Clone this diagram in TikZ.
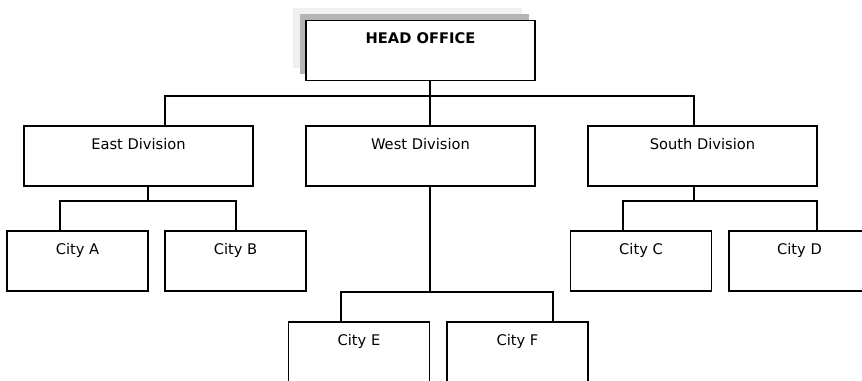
\documentclass[tikz,border=0pt]{standalone}
\usepackage{fontspec}
\setmainfont{DejaVu Sans}
\definecolor{shadelight}{RGB}{240,240,240}
\definecolor{shadedark}{RGB}{180,180,180}
\tikzset{
	unitbox/.style={draw, fill=white, line width=1pt, inner sep=0pt, minimum width=#1,
		text height=17.25pt, text depth=27.75pt, font=\fontsize{11}{13}\selectfont},
	divbox/.style={unitbox=171.75pt},
	citybox/.style={unitbox=105.75pt},
	link/.style={line width=1pt}
}
\begin{document}
\begin{tikzpicture}[x=0.75pt, y=-0.75pt, line join=miter]
			\useasboundingbox (0,0) rectangle (862,380);
			\clip (0,0) rectangle (862,380);
			% shadow behind head office
			\fill[shadelight] (293,8) rectangle (522,68);
			\fill[shadedark] (300,14) rectangle (529,74);
			\node[divbox] (head) at (420.5,50.5) {\textbf{HEAD OFFICE}};
			% divisions
			\node[divbox] (eastdiv) at (138.5,156) {East Division};
			\node[divbox] (westdiv) at (420.5,156) {West Division};
			\node[divbox] (southdiv) at (702.5,156) {South Division};
			% cities
			\node[citybox] (cityA) at (77.5,261) {City A};
			\node[citybox] (cityB) at (235.5,261) {City B};
			\node[citybox] (cityC) at (641,261) {City C};
			\node[citybox] (cityD) at (799.5,261) {City D};
			\node[citybox] (cityE) at (359,352) {City E};
			\node[citybox] (cityF) at (517.5,352) {City F};
			% head office to divisions
			\coordinate (busE) at (165,96);
			\coordinate (busW) at (430,96);
			\coordinate (busS) at (694,96);
			\draw[link] (head.south -| busW) -- (busW);
			\draw[link] (busE |- eastdiv.north) -- (busE) -- (busS) -- (busS |- southdiv.north);
			\draw[link] (busW) -- (busW |- westdiv.north);
			% east division
			\coordinate (eastHub) at (148,201);
			\coordinate (eastL) at (60,201);
			\coordinate (eastR) at (236,201);
			\draw[link] (eastHub |- eastdiv.south) -- (eastHub);
			\draw[link] (eastL |- cityA.north) -- (eastL) -- (eastR) -- (eastR |- cityB.north);
			% west division
			\coordinate (westHub) at (430,292);
			\coordinate (westL) at (341,292);
			\coordinate (westR) at (553,292);
			\draw[link] (westHub |- westdiv.south) -- (westHub);
			\draw[link] (westL |- cityE.north) -- (westL) -- (westR) -- (westR |- cityF.north);
			% south division
			\coordinate (southHub) at (694,201);
			\coordinate (southL) at (623,201);
			\coordinate (southR) at (817,201);
			\draw[link] (southHub |- southdiv.south) -- (southHub);
			\draw[link] (southL |- cityC.north) -- (southL) -- (southR) -- (southR |- cityD.north);
		\end{tikzpicture}
\end{document}
